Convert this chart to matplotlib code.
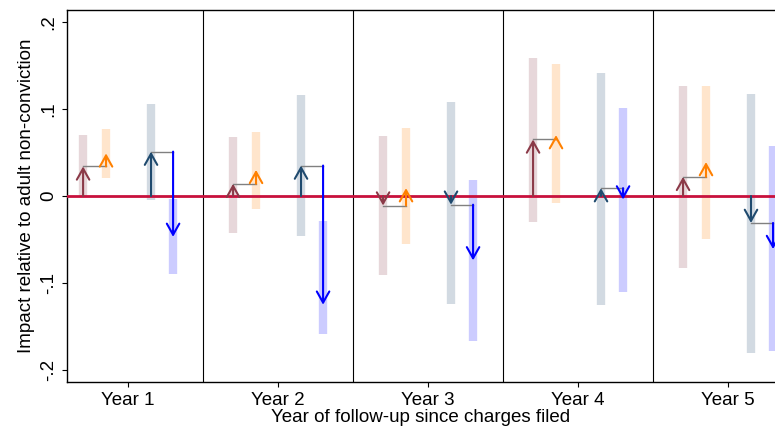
import matplotlib
matplotlib.use("Agg")
import matplotlib.pyplot as plt

plt.rcParams['font.family'] = ['Liberation Sans', 'DejaVu Sans']

years = ["Year 1", "Year 2", "Year 3", "Year 4", "Year 5"]
# point estimates
s1 = [0.034, 0.014, -0.011, 0.065, 0.022]
s2 = [0.049, 0.030, 0.009, 0.070, 0.039]
s3 = [0.051, 0.035, -0.010, 0.009, -0.031]
s4 = [-0.047, -0.125, -0.074, -0.004, -0.061]
# confidence intervals
s1_lo = [0.000, -0.042, -0.091, -0.030, -0.083]
s1_hi = [0.070, 0.068, 0.069, 0.159, 0.127]
s2_lo = [0.021, -0.015, -0.055, -0.008, -0.050]
s2_hi = [0.077, 0.074, 0.078, 0.152, 0.126]
s3_lo = [-0.005, -0.046, -0.124, -0.125, -0.180]
s3_hi = [0.106, 0.116, 0.108, 0.141, 0.117]
s4_lo = [-0.003, -0.029, -0.167, -0.110, -0.178]
s4_hi = [-0.090, -0.159, 0.018, 0.101, 0.058]

colors = ['#8B3A48', '#FF8000', '#1F4A6E', '#0000FF']
offs = [-0.30, -0.147, 0.153, 0.30]

fig = plt.figure(figsize=(7.75, 4.37), dpi=100)
ax = fig.add_axes([0.0865, 0.126, 0.9135, 0.851])
ax.set_xlim(0.593, 5.313)
ax.set_ylim(-0.2138, 0.2138)

for b in [1.5, 2.5, 3.5, 4.5]:
    ax.axvline(b, color='black', lw=0.8, zorder=1)
ax.axhline(0, color='#C8103C', lw=2, zorder=3)

def arrow(x, y0, y1, c):
    ax.annotate('', xy=(x, y1), xytext=(x, y0),
                arrowprops=dict(arrowstyle='->,head_length=0.8,head_width=0.45',
                                color=c, lw=1.5, shrinkA=0, shrinkB=0), zorder=5)

for i in range(5):
    xc = i + 1
    los = [s1_lo, s2_lo, s3_lo, s4_lo]
    his = [s1_hi, s2_hi, s3_hi, s4_hi]
    for k in range(4):
        ax.plot([xc + offs[k]] * 2, [los[k][i], his[k][i]], color=colors[k],
                alpha=0.2, lw=6, solid_capstyle='butt', zorder=2)
    ax.plot([xc + offs[0], xc + offs[1]], [s1[i], s1[i]], color='grey', lw=1, zorder=4)
    ax.plot([xc + offs[2], xc + offs[3]], [s3[i], s3[i]], color='grey', lw=1, zorder=4)
    arrow(xc + offs[0], 0, s1[i], colors[0])
    arrow(xc + offs[1], s1[i], s2[i], colors[1])
    arrow(xc + offs[2], 0, s3[i], colors[2])
    arrow(xc + offs[3], s3[i], s4[i], colors[3])

ax.set_xticks(range(1, 6))
ax.set_xticklabels(years, fontsize=13.5)
ax.set_yticks([-0.2, -0.1, 0, 0.1, 0.2])
ax.set_yticklabels(['-.2', '-.1', '0', '.1', '.2'], rotation=90, va='center', fontsize=13.5)
ax.set_ylabel('Impact relative to adult non-conviction', fontsize=13.5, labelpad=4)
ax.set_xlabel('Year of follow-up since charges filed', fontsize=13.5, labelpad=0)
ax.spines['right'].set_visible(False)
for s in ['left', 'top', 'bottom']:
    ax.spines[s].set_linewidth(1)
fig.savefig('out.png', dpi=100)
